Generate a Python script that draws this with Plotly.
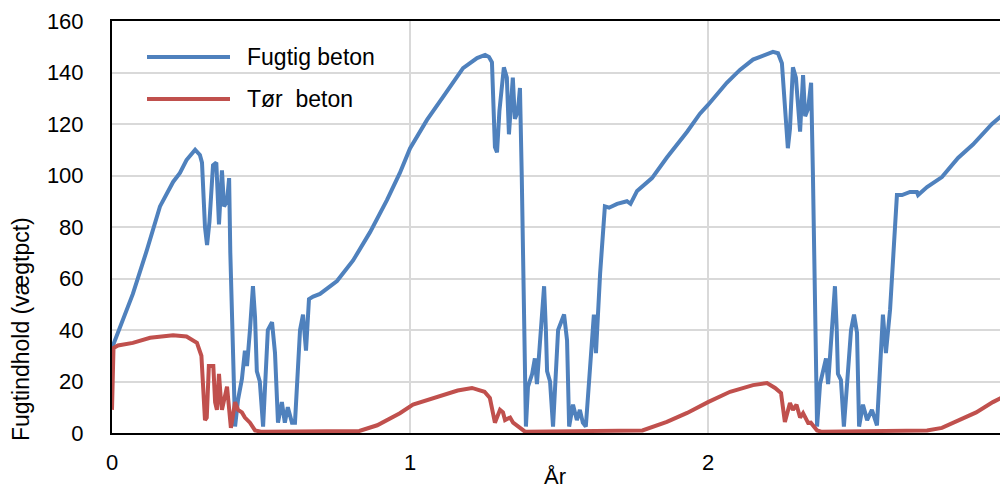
import plotly.graph_objects as go

# ---- data ----
years_wet = [0.000, 0.035, 0.070, 0.117, 0.161, 0.205, 0.228, 0.250, 0.279, 0.295,
             0.302, 0.312, 0.319, 0.327, 0.339, 0.350, 0.359, 0.369, 0.376, 0.386,
             0.393, 0.397, 0.413, 0.423, 0.436, 0.446, 0.453, 0.463, 0.473, 0.480,
             0.486, 0.496, 0.507, 0.523, 0.537, 0.547, 0.557, 0.570, 0.580, 0.590,
             0.604, 0.614, 0.631, 0.641, 0.651, 0.661, 0.675, 0.698, 0.732, 0.755,
             0.809, 0.866, 0.923, 0.966, 1.000, 1.057, 1.111, 1.178, 1.225, 1.252,
             1.265, 1.275, 1.285, 1.292, 1.300, 1.315, 1.325, 1.332, 1.345, 1.352,
             1.362, 1.369, 1.375, 1.389, 1.396, 1.410, 1.419, 1.426, 1.436, 1.450,
             1.456, 1.460, 1.470, 1.480, 1.497, 1.517, 1.527, 1.534, 1.547, 1.560,
             1.570, 1.580, 1.590, 1.610, 1.617, 1.624, 1.638, 1.654, 1.668, 1.695,
             1.728, 1.740, 1.762, 1.812, 1.862, 1.930, 1.973, 2.000, 2.063, 2.107,
             2.151, 2.218, 2.235, 2.248, 2.258, 2.268, 2.275, 2.285, 2.295, 2.309,
             2.319, 2.326, 2.336, 2.346, 2.352, 2.366, 2.376, 2.396, 2.403, 2.413,
             2.426, 2.432, 2.436, 2.446, 2.456, 2.480, 2.490, 2.500, 2.507, 2.520,
             2.534, 2.550, 2.567, 2.587, 2.597, 2.611, 2.634, 2.651, 2.678, 2.701,
             2.705, 2.735, 2.785, 2.839, 2.889, 2.953, 3.000]
fugtig = [33, 44, 54, 71, 88, 97.5, 101, 106, 110, 108,
          105, 80, 73, 82, 104, 105, 81, 102, 88, 90,
          99, 70, 2.5, 13, 21, 32, 26, 40, 57, 45,
          24, 20, 2.5, 40, 43, 31, 4, 12, 4, 10,
          4, 4, 40, 46, 32, 52, 53, 54, 57, 59,
          67, 78, 90.5, 101, 110.5, 121.6, 130.5, 141.7, 145.6, 146.8,
          146, 144, 111, 109, 125, 142, 138, 116, 138, 122,
          125, 134, 100, 2.5, 18, 23, 29, 19, 35, 57,
          40, 24, 20, 2.5, 40, 46, 36, 2.5, 11, 5,
          9, 4, 2.5, 37, 46, 31, 62, 88, 87.5, 89,
          90, 89, 94, 99, 107, 117, 124, 127.4, 136, 141,
          145, 148, 147.5, 143.6, 125, 110.6, 118, 142, 138, 117,
          139, 123, 126, 136, 101, 2.5, 19, 29, 19, 35,
          57, 40, 23, 20.6, 2.5, 40, 46, 39, 2.5, 11,
          5, 9, 3, 46, 31, 48, 92.4, 92.4, 93.6, 93.6,
          92.4, 95.5, 99.4, 106.8, 112, 120, 124.7]

years_dry = [0.000, 0.005, 0.020, 0.070, 0.128, 0.205, 0.250, 0.285, 0.300, 0.307,
             0.312, 0.318, 0.325, 0.340, 0.346, 0.352, 0.359, 0.366, 0.369, 0.386,
             0.393, 0.399, 0.413, 0.423, 0.436, 0.446, 0.463, 0.480, 0.500, 0.830,
             0.890, 0.966, 1.010, 1.097, 1.160, 1.208, 1.250, 1.268, 1.285, 1.302,
             1.312, 1.319, 1.336, 1.346, 1.369, 1.386, 1.780, 1.805, 1.862, 1.930,
             2.000, 2.074, 2.151, 2.198, 2.225, 2.245, 2.258, 2.275, 2.285, 2.297,
             2.309, 2.319, 2.336, 2.345, 2.366, 2.380, 2.700, 2.735, 2.785, 2.846,
             2.900, 2.956, 3.000]
toer = [9, 33, 34, 35, 37, 38, 37.5, 35, 30, 15,
        5, 6, 26, 26, 12, 9, 23, 12, 9, 18,
        8, 2, 12, 9, 8, 6, 4, 1, 0.5, 0.8,
        3, 7.7, 11, 14, 16.5, 17.5, 16, 13.6, 4, 9,
        8, 5, 6, 4, 2, 0.5, 1, 2, 4.3, 7.8,
        12, 16, 18.6, 19.4, 17.5, 15.5, 4.3, 11.6, 9, 11,
        6, 7.7, 3.9, 4, 1, 0.5, 0.7, 1, 2, 5,
        8, 12, 14.6]

series_names = ["Fugtig beton", "Tør  beton"]
series_colors = ["#4F81BD", "#C0504D"]
x_ticks = [0, 1, 2, 3]
y_ticks = [0, 20, 40, 60, 80, 100, 120, 140, 160]

FONT = "Liberation Sans, Arial, sans-serif"

fig = go.Figure()
fig.add_trace(go.Scatter(x=years_wet, y=fugtig, mode="lines", name=series_names[0],
                         line=dict(color=series_colors[0], width=4)))
fig.add_trace(go.Scatter(x=years_dry, y=toer, mode="lines", name=series_names[1],
                         line=dict(color=series_colors[1], width=4)))

# The page body has an 8px margin, so the figure is placed at (8, 8) in the window.
OFF = 8
W, H = 1008 - OFF, 488 - OFF
L, R, T, B = 112 - OFF, 2, 21 - OFF, 55
pw, ph = W - L - R, H - T - B

def px2paper(px, py):
    # px, py in window pixels
    return (px - OFF - L) / pw, (H - B - (py - OFF)) / ph

shapes = []
annotations = []
for i, (name, col) in enumerate(zip(series_names, series_colors)):
    yy = [57, 99][i]
    x0, y0 = px2paper(147, yy)
    x1, _ = px2paper(230, yy)
    shapes.append(dict(type="line", xref="paper", yref="paper", x0=x0, x1=x1, y0=y0, y1=y0,
                       line=dict(color=col, width=4)))
    tx, _ = px2paper(245, yy)
    annotations.append(dict(text=name.replace("  ", "\u00a0 "), xref="paper", yref="paper",
                            x=tx, y=y0, xanchor="left", yanchor="middle", showarrow=False,
                            font=dict(family=FONT, size=23, color="#000")))

ax_x, ax_y = px2paper(555, 476)
annotations.append(dict(text="År", xref="paper", yref="paper", x=ax_x, y=ax_y,
                        xanchor="center", yanchor="middle", showarrow=False,
                        font=dict(family=FONT, size=22, color="#000")))
ty_x, ty_y = px2paper(21, 329)
annotations.append(dict(text="Fugtindhold (vægtpct)", xref="paper", yref="paper", x=ty_x, y=ty_y,
                        xanchor="center", yanchor="middle", textangle=-90, showarrow=False,
                        font=dict(family=FONT, size=23, color="#000")))

fig.update_layout(
    width=W, height=H,
    margin=dict(l=L, r=R, t=T, b=B, autoexpand=False),
    paper_bgcolor="white", plot_bgcolor="white",
    showlegend=False,
    font=dict(family=FONT, size=22, color="#000"),
    shapes=shapes, annotations=annotations,
)
fig.update_xaxes(range=[0, 3], tickvals=x_ticks, ticktext=[str(v) for v in x_ticks],
                 showgrid=True, gridcolor="#D9D9D9", gridwidth=2,
                 showline=True, linecolor="#000", linewidth=2, mirror=True,
                 ticks="", ticklabelstandoff=9, zeroline=False, ticklabeloverflow="allow",
                 tickfont=dict(family=FONT, size=22, color="#000"))
fig.update_yaxes(range=[0, 160], tickvals=y_ticks, ticktext=[str(v) for v in y_ticks],
                 showgrid=True, gridcolor="#D9D9D9", gridwidth=2,
                 showline=True, linecolor="#000", linewidth=2, mirror=True,
                 ticks="", ticklabelstandoff=22, zeroline=False,
                 tickfont=dict(family=FONT, size=22, color="#000"))

fig.write_html("out.html")
